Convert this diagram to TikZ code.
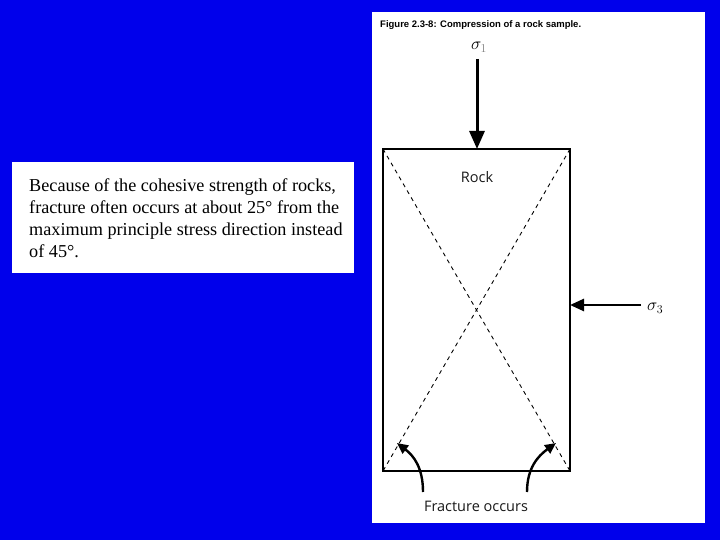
\documentclass[tikz,border=0pt]{standalone}
\usepackage{fontspec}
\setmainfont{Liberation Serif}
\newfontfamily\capfont{Liberation Sans}
\newfontfamily\labfont{Open Sans}
\usetikzlibrary{arrows.meta}
\definecolor{bgblue}{RGB}{0,0,235}
\tikzset{
  panel/.style={fill=white,draw=none},
  bigarrow/.style={line width=3pt,-{Triangle[length=18pt,width=15pt]}},
  sidearrow/.style={line width=2.6pt,-{Triangle[length=14pt,width=12pt]}},
  fracarrow/.style={line width=2.4pt,-{Triangle[length=11pt,width=10pt]}},
  lab/.style={font=\labfont\fontsize{14.5}{16}\selectfont,text=black!90,inner sep=0pt},
  diag/.style={dash pattern=on 4pt off 4pt,line width=0.9pt}
}
\begin{document}
\begin{tikzpicture}[x=1pt,y=-1pt]
\fill[bgblue] (0,0) rectangle (720,540);
\useasboundingbox (0,0) rectangle (720,540);
% panels
\fill[panel] (372,12) rectangle (705,523);
\fill[panel] (12,162) rectangle (354,273);
% text box
\node[anchor=north west,inner sep=0pt,align=left,font=\fontsize{18.2}{22}\selectfont] (txt) at (29,178)
 {Because of the cohesive strength of rocks,\\fracture often occurs at about 25\textdegree\ from the\\maximum principle stress direction instead\\of 45\textdegree.};
% caption
\node[anchor=west,inner sep=0pt,font=\capfont\bfseries\fontsize{9.5}{10}\selectfont] (cap) at (380,25) {Figure 2.3-8: Compression of a rock sample.};
% rock rectangle
\coordinate (tl) at (383,149);
\coordinate (tr) at (570,149);
\coordinate (bl) at (383,471);
\coordinate (br) at (570,471);
\draw[diag] (tl) -- (br);
\draw[diag] (tr) -- (bl);
\draw[line width=2.6pt] (tl) rectangle (br);
\node[lab] (rock) at (477,177) {Rock};
% sigma1
\coordinate (s1top) at (477,59);
\coordinate (s1tip) at (477,149);
\draw[bigarrow] (s1top) -- (s1tip);
\node[inner sep=0pt,font=\fontsize{17}{18}\selectfont] (s1) at (479,47) {$\sigma_{\textcolor{black!50}{1}}$};
% sigma3
\coordinate (s3start) at (641,305);
\coordinate (s3tip) at (570,305);
\draw[sidearrow] (s3start) -- (s3tip);
\node[inner sep=0pt,font=\fontsize{17}{18}\selectfont,anchor=west] (s3) at (647,308) {$\sigma_3$};
% fracture arrows
\node[lab] (frac) at (476,506) {Fracture occurs};
\coordinate (fl0) at (423,492);
\coordinate (fl1) at (397,443);
\coordinate (fr0) at (527,492);
\coordinate (fr1) at (556,443);
\draw[fracarrow] (fl0) .. controls (423,468) and (414,456) .. (fl1);
\draw[fracarrow] (fr0) .. controls (527,468) and (538,456) .. (fr1);
\end{tikzpicture}
\end{document}
